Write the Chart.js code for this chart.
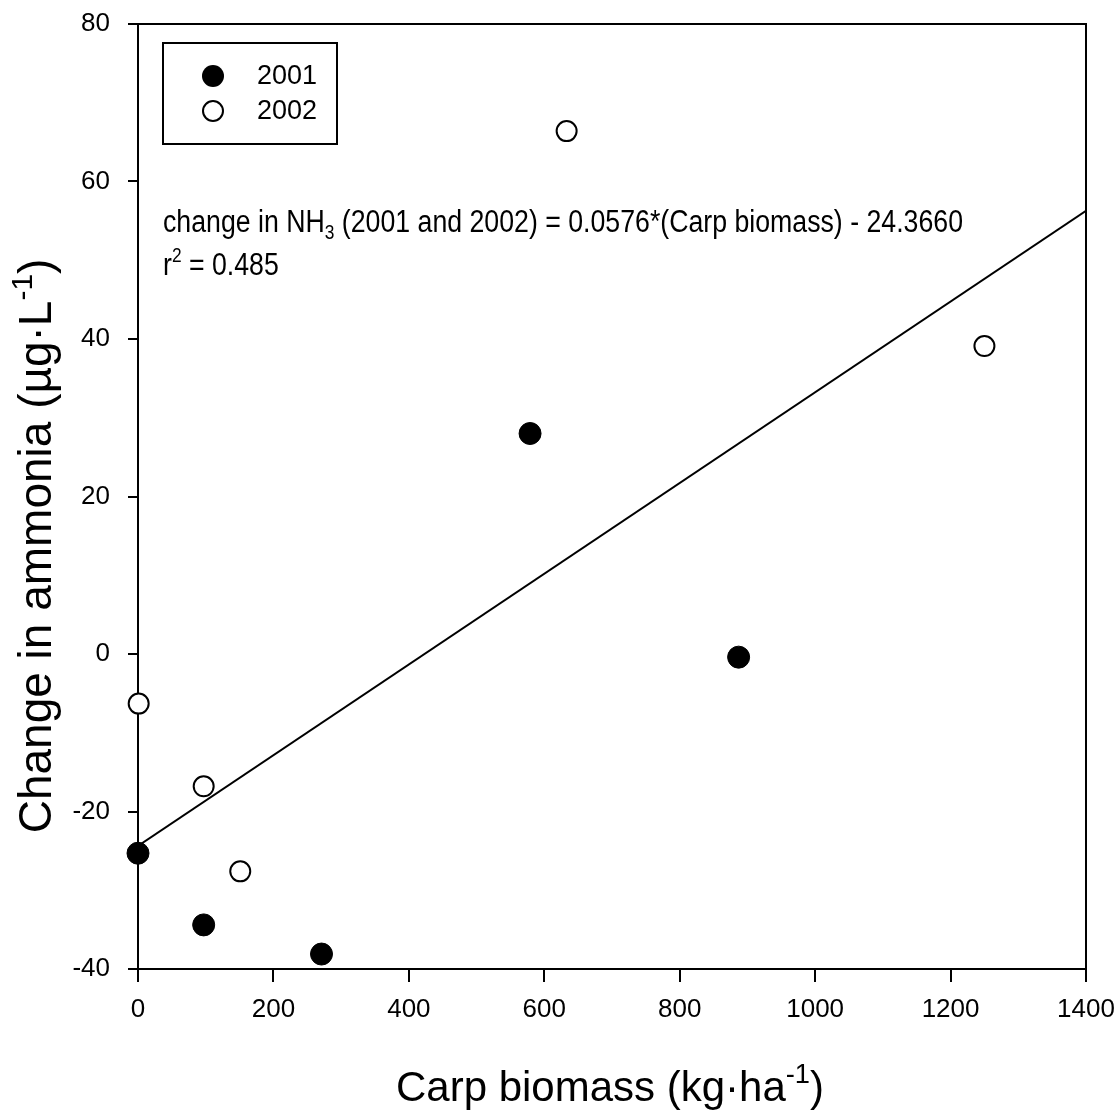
<!DOCTYPE html>
<html>
<head>
<meta charset="utf-8">
<script src="https://cdn.jsdelivr.net/npm/chart.js@4.4.1/dist/chart.umd.min.js"></script>
<style>
  body { margin: 0; background: #fff; }
  canvas { display: block; }
</style>
</head>
<body>
<canvas id="carpChart" width="1116" height="1111"></canvas>
<script>
// data
const biomass2001 = [0, 97, 271, 579, 887];
const ammonia2001 = [-25.3, -34.4, -38.1, 28.0, -0.4];
const biomass2002 = [1, 97, 151, 633, 1250];
const ammonia2002 = [-6.3, -16.8, -27.6, 66.4, 39.1];

// regression from the equation printed on the chart
const fitSlope = 0.0576;
const fitIntercept = -24.366;
const fitRange = [0, 1400];

const xTicks = [0, 200, 400, 600, 800, 1000, 1200, 1400];
const yTicks = [-40, -20, 0, 20, 40, 60, 80];

const FONT = "'Liberation Sans', Arial, sans-serif";

function toPoints(xs, ys) {
  return xs.map((x, i) => ({ x: x, y: ys[i] }));
}

// draw text made of parts, some super/subscript
function drawParts(ctx, parts, x, y, size, align) {
  const widths = parts.map(p => {
    ctx.font = (p.sup || p.sub ? size * 0.65 : size) + "px " + FONT;
    return ctx.measureText(p.t).width;
  });
  const total = widths.reduce((a, b) => a + b, 0);
  let cx = align === "center" ? x - total / 2 : x;
  parts.forEach((p, i) => {
    ctx.font = (p.sup || p.sub ? size * 0.65 : size) + "px " + FONT;
    let dy = 0;
    if (p.sup) dy = -size * 0.42;
    if (p.sub) dy = size * 0.22;
    ctx.fillText(p.t, cx, y + dy);
    cx += widths[i];
  });
  return total;
}

function measureParts(ctx, parts, size) {
  let total = 0;
  parts.forEach(p => {
    ctx.font = (p.sup || p.sub ? size * 0.65 : size) + "px " + FONT;
    total += ctx.measureText(p.t).width;
  });
  return total;
}

const extrasPlugin = {
  id: "extras",
  afterDraw(chart) {
    const ctx = chart.ctx;
    const a = chart.chartArea;
    ctx.save();
    ctx.strokeStyle = "#000";
    ctx.fillStyle = "#000";
    ctx.lineWidth = 2;

    // top and right frame lines
    ctx.beginPath();
    ctx.moveTo(a.left, a.top);
    ctx.lineTo(a.right, a.top);
    ctx.lineTo(a.right, a.bottom);
    ctx.stroke();

    // legend box
    ctx.strokeRect(163, 43, 174, 101);
    ctx.beginPath();
    ctx.arc(213, 76, 11, 0, Math.PI * 2);
    ctx.fill();
    ctx.beginPath();
    ctx.arc(213, 111, 10, 0, Math.PI * 2);
    ctx.fillStyle = "#fff";
    ctx.fill();
    ctx.stroke();
    ctx.fillStyle = "#000";
    ctx.textBaseline = "middle";
    ctx.textAlign = "left";
    ctx.font = "27px " + FONT;
    ctx.fillText(chart.data.datasets[0].label, 257, 77);
    ctx.fillText(chart.data.datasets[1].label, 257, 112);

    // equation text, squeezed like the narrow font of the original
    ctx.textBaseline = "alphabetic";
    const eq = [
      { t: "change in NH" },
      { t: "3", sub: true },
      { t: " (2001 and 2002) = 0.0576*(Carp biomass) - 24.3660" }
    ];
    const eqSize = 31;
    const sx = 800 / measureParts(ctx, eq, eqSize);
    ctx.save();
    ctx.translate(163, 232);
    ctx.scale(sx, 1);
    drawParts(ctx, eq, 0, 0, eqSize, "left");
    ctx.restore();
    ctx.save();
    ctx.translate(163, 275);
    ctx.scale(sx, 1);
    drawParts(ctx, [{ t: "r" }, { t: "2", sup: true }, { t: " = 0.485" }], 0, 0, eqSize, "left");
    ctx.restore();

    // axis titles
    drawParts(ctx, [{ t: "Carp biomass (kg·ha" }, { t: "-1", sup: true }, { t: ")" }], 610, 1101, 42, "center");
    ctx.save();
    ctx.translate(51, 546);
    ctx.rotate(-Math.PI / 2);
    drawParts(ctx, [{ t: "Change in ammonia (µg·L" }, { t: "-1", sup: true }, { t: ")" }], 0, 0, 46, "center");
    ctx.restore();

    ctx.restore();
  }
};

const tickFont = { family: FONT, size: 26 };

new Chart(document.getElementById("carpChart"), {
  type: "scatter",
  data: {
    datasets: [
      {
        label: "2001",
        data: toPoints(biomass2001, ammonia2001),
        backgroundColor: "#000",
        borderColor: "#000",
        pointRadius: 11,
        clip: false,
        order: 1
      },
      {
        label: "2002",
        data: toPoints(biomass2002, ammonia2002),
        backgroundColor: "#fff",
        borderColor: "#000",
        borderWidth: 2,
        pointRadius: 10,
        clip: false,
        order: 2
      },
      {
        label: "fit",
        type: "line",
        data: fitRange.map(x => ({ x: x, y: fitSlope * x + fitIntercept })),
        borderColor: "#000",
        borderWidth: 2,
        pointRadius: 0,
        fill: false,
        order: 3
      }
    ]
  },
  options: {
    responsive: false,
    animation: false,
    layout: { padding: { left: 0, top: 24, right: 30, bottom: 0 } },
    plugins: {
      legend: { display: false },
      tooltip: { enabled: false }
    },
    scales: {
      x: {
        type: "linear",
        min: 0,
        max: 1400,
        afterBuildTicks: s => { s.ticks = xTicks.map(v => ({ value: v })); },
        afterFit: s => { s.height = 142; s.paddingLeft = 0; s.paddingRight = 0; },
        ticks: { font: tickFont, color: "#000", padding: 12, maxRotation: 0, callback: v => String(v) },
        grid: { drawOnChartArea: false, drawTicks: true, tickLength: 13, color: "#000", lineWidth: 2 },
        border: { display: true, color: "#000", width: 2 }
      },
      y: {
        type: "linear",
        min: -40,
        max: 80,
        afterBuildTicks: s => { s.ticks = yTicks.map(v => ({ value: v })); },
        afterFit: s => { s.width = 138; s.paddingTop = 0; s.paddingBottom = 0; },
        ticks: { font: tickFont, color: "#000", padding: 18, callback: v => String(v) },
        grid: { drawOnChartArea: false, drawTicks: true, tickLength: 10, color: "#000", lineWidth: 2 },
        border: { display: true, color: "#000", width: 2 }
      }
    }
  },
  plugins: [extrasPlugin]
});
</script>
</body>
</html>
